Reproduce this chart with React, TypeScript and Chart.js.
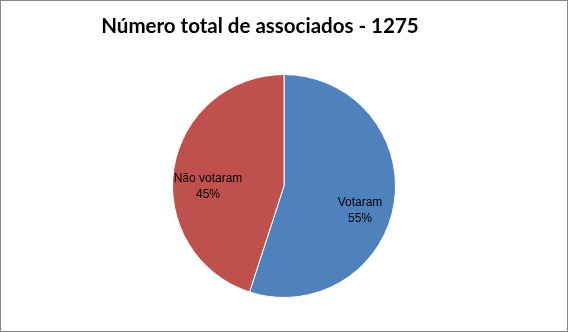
import React, { useEffect, useRef } from "react";
import { Chart, registerables } from "chart.js";

Chart.register(...registerables);

const labels = ["Votaram", "Não votaram"];
const values = [55, 45];
const colors = ["#4F81BD", "#C0504D"];
const titleText = "Número total de associados - 1275";

const titlePlugin = {
  id: "excelTitle",
  afterDraw(chart: any) {
    const { ctx } = chart;
    ctx.save();
    ctx.font = "bold 20.5px Lato, sans-serif";
    ctx.fillStyle = "#000000";
    ctx.textAlign = "center";
    ctx.textBaseline = "middle";
    ctx.fillText(titleText, chart.width * 0.4575, 25);
    ctx.restore();
  },
};

const labelPlugin = {
  id: "sliceLabels",
  afterDatasetsDraw(chart: any) {
    const { ctx } = chart;
    const meta = chart.getDatasetMeta(0);
    const total = values.reduce((a, b) => a + b, 0);
    ctx.save();
    ctx.font = "12px 'Liberation Sans', sans-serif";
    ctx.fillStyle = "#000000";
    ctx.textAlign = "center";
    ctx.textBaseline = "middle";
    meta.data.forEach((arc: any, i: number) => {
      const { x, y, startAngle, endAngle, outerRadius } = arc.getProps(
        ["x", "y", "startAngle", "endAngle", "outerRadius"],
        true
      );
      const mid = (startAngle + endAngle) / 2;
      const r = outerRadius * 0.69;
      const cx = x + Math.cos(mid) * r;
      const cy = y + Math.sin(mid) * r + 13;
      const pct = Math.round((values[i] / total) * 100) + "%";
      ctx.fillText(labels[i], cx, cy - 8);
      ctx.fillText(pct, cx, cy + 8);
    });
    ctx.restore();
  },
};

export default function App() {
  const ref = useRef<HTMLCanvasElement | null>(null);
  useEffect(() => {
    if (!ref.current) return;
    const chart = new Chart(ref.current, {
      type: "pie",
      data: {
        labels,
        datasets: [
          {
            data: values,
            backgroundColor: colors,
            borderColor: "#ffffff",
            borderWidth: 1,
          },
        ],
      },
      options: {
        animation: false,
        responsive: false,
        maintainAspectRatio: false,
        layout: { padding: { top: 73, bottom: 33, left: 0, right: 0 } },
        plugins: {
          legend: { display: false },
          tooltip: { enabled: false },
          title: { display: false },
        },
      },
      plugins: [labelPlugin, titlePlugin],
    });
    return () => chart.destroy();
  }, []);
  return (
    <div
      style={{
        position: "fixed",
        left: 0,
        top: 0,
        width: 568,
        height: 332,
        boxSizing: "border-box",
        border: "1px solid #878787",
        background: "#ffffff",
      }}
    >
      <canvas ref={ref} width={566} height={330} style={{ display: "block" }} />
    </div>
  );
}
